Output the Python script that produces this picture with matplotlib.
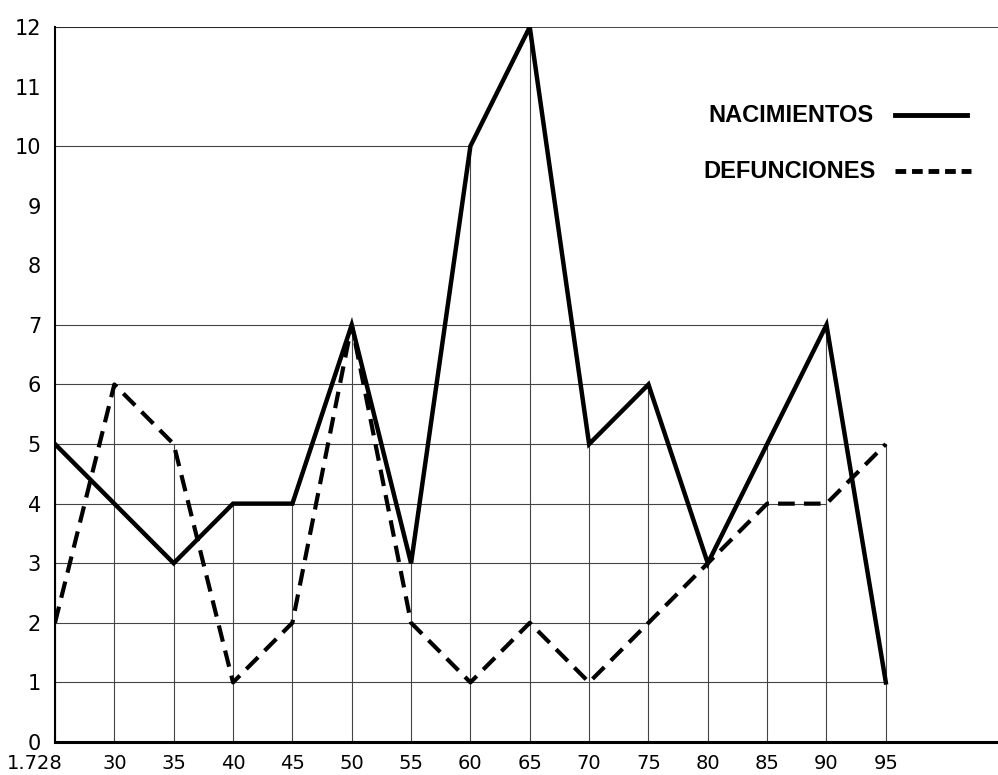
import matplotlib
matplotlib.use("Agg")
import matplotlib.pyplot as plt
import matplotlib.transforms as mtransforms
import numpy as np

# --- Data ---
anos = ["1.728", "30", "35", "40", "45", "50", "55", "60", "65", "70",
        "75", "80", "85", "90", "95"]
nacimientos = [5, 4, 3, 4, 4, 7, 3, 10, 12, 5, 6, 3, 5, 7, 1]
defunciones = [2, 6, 5, 1, 2, 7, 2, 1, 2, 1, 2, 3, 4, 4, 5]
y_ticks = list(range(0, 13))

x = np.arange(len(anos))
nac = np.array(nacimientos)
dfn = np.array(defunciones)

# --- Figure ---
fig = plt.figure(figsize=(9.98, 7.75), dpi=100)
ax = fig.add_axes([0.0551, 0.0426, 0.9449, 0.9226])
ax.set_xlim(0, 15.89)
ax.set_ylim(0, 12)

# grid as hand drawn: verticals up to the highest point of that year,
# horizontals out to the last point that reaches that value
tope = np.maximum(nac, dfn)
for xi, t in zip(x, tope):
    ax.plot([xi, xi], [0, t], color="#444444", lw=0.8, zorder=1)
for v in sorted(set(nacimientos) | set(defunciones)):
    ult = max(i for i in x if nac[i] == v or dfn[i] == v)
    ax.plot([0, ult], [v, v], color="#444444", lw=0.8, zorder=1)
ax.axhline(12, color="#222222", lw=1.2, zorder=1)

# --- Series ---
ax.plot(x, nac, color="black", lw=3.2, solid_joinstyle="miter", zorder=3)
ax.plot(x, dfn, color="black", lw=3.0, dashes=(4, 2.2), zorder=2)

# --- Legend (drawn as text + line samples) ---
fuente = ["Liberation Sans Narrow", "DejaVu Sans Condensed", "Liberation Sans"]
fig.text(0.875, 0.851, "NACIMIENTOS", ha="right", va="center",
         fontsize=17, fontweight="bold", family=fuente)
fig.text(0.877, 0.779, "DEFUNCIONES", ha="right", va="center",
         fontsize=17, fontweight="bold", family=fuente)
fig.add_artist(plt.Line2D([0.897, 0.969], [0.851, 0.851],
                          color="black", lw=3.5))
fig.add_artist(plt.Line2D([0.897, 0.973], [0.779, 0.779],
                          color="black", lw=3.5, dashes=(2.2, 1.2)))

# --- Axes style ---
for s in ["top", "right"]:
    ax.spines[s].set_visible(False)
ax.spines["left"].set_linewidth(1.5)
ax.spines["bottom"].set_linewidth(2.2)

ax.set_xticks(x)
ax.set_xticklabels(anos)
ax.set_yticks(y_ticks)
ax.set_yticklabels([str(v) for v in y_ticks])
ax.tick_params(axis="y", length=0, labelsize=15, colors="black", pad=10)
ax.tick_params(axis="x", length=0, labelsize=14, colors="black", pad=9)

# first year label sits left of the axis corner
primero = ax.get_xticklabels()[0]
primero.set_transform(primero.get_transform() +
                      mtransforms.ScaledTranslation(-0.2, 0, fig.dpi_scale_trans))

fig.savefig("out.png", dpi=100)
